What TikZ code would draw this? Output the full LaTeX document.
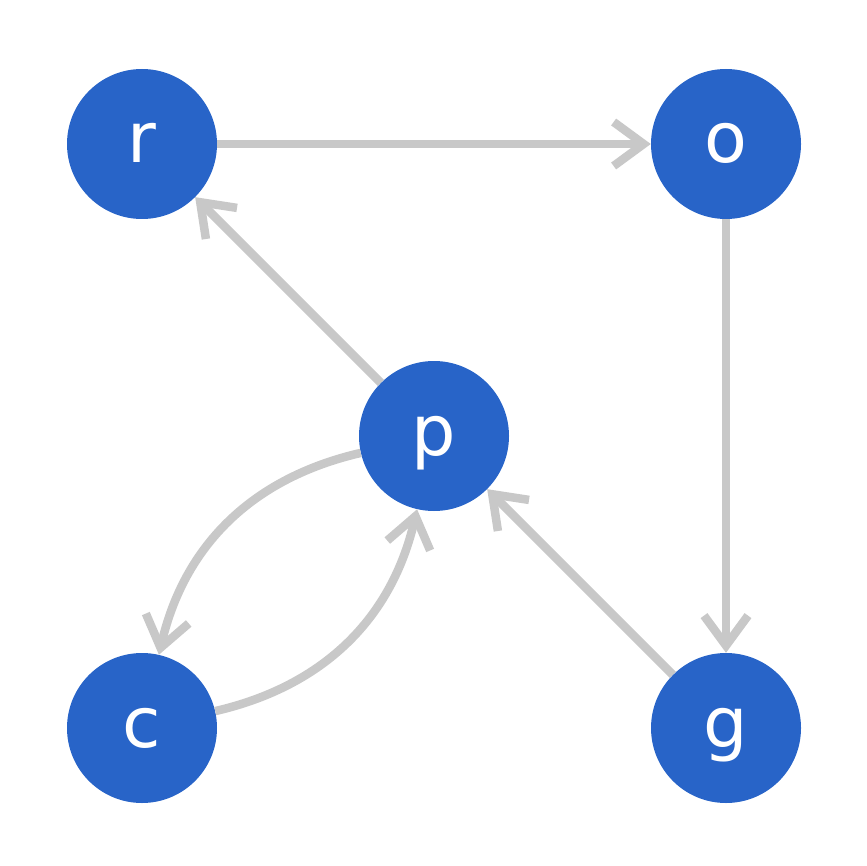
\documentclass[tikz,border=0pt]{standalone}
\usepackage{fontspec}
\setmainfont{DejaVu Sans}
\usetikzlibrary{arrows.meta}
\definecolor{nodeblue}{RGB}{40,100,200}
\definecolor{edgegray}{RGB}{200,200,200}
\tikzset{
  vertex/.style={circle, fill=nodeblue, draw=none, minimum size=150pt, inner sep=0pt, text=white, font=\fontsize{70}{70}\selectfont, text height=38pt, text depth=0pt},
  edge/.style={draw=edgegray, line width=8.5pt, -{Straight Barb[length=30pt,width=44pt,line cap=butt,line join=miter]}},
}
\begin{document}
\begin{tikzpicture}[x=1pt,y=-1pt]
\useasboundingbox (0,0) rectangle (866,866);
\node[vertex] (r) at (142,144) {r};
\node[vertex] (o) at (726,144) {o};
\node[vertex] (p) at (434,436) {p};
\node[vertex] (c) at (142,728) {c};
\node[vertex] (g) at (726,728) {g};
\draw[edge] (r) -- (o);
\draw[edge] (o) -- (g);
\draw[edge] (p) -- (r);
\draw[edge] (g) -- (p);
\draw[edge] (p) to[bend right=32] (c);
\draw[edge] (c) to[bend right=32] (p);
\end{tikzpicture}
\end{document}
